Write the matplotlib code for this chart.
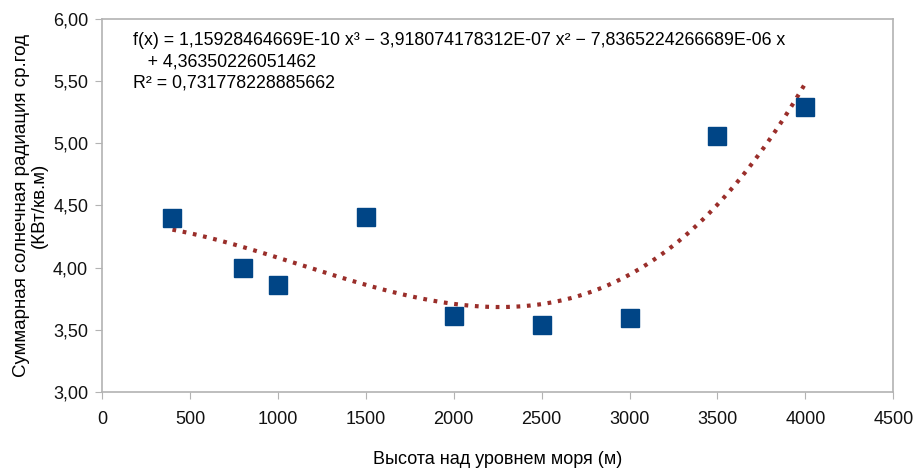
import numpy as np
import matplotlib
matplotlib.use("Agg")
import matplotlib.pyplot as plt
from matplotlib.ticker import FuncFormatter

plt.rcParams['font.family'] = ['Liberation Sans', 'DejaVu Sans']

# data
height_m = [400, 800, 1000, 1500, 2000, 2500, 3000, 3500, 4000]
radiation = [4.40, 4.00, 3.86, 4.41, 3.61, 3.54, 3.595, 5.06, 5.29]

# polynomial trend (from the equation shown on the chart)
coef = [1.15928464669e-10, -3.918074178312e-07, -7.8365224266689e-06, 4.36350226051462]
eq_text = ("f(x) = 1,15928464669E-10 x³ − 3,918074178312E-07 x² − 7,8365224266689E-06 x\n"
           "   + 4,36350226051462\n"
           "R² = 0,731778228885662")

fig = plt.figure(figsize=(9.2, 4.7), dpi=100)
ax = fig.add_axes([0.111, 0.166, 0.86, 0.794])

xs = np.linspace(min(height_m), max(height_m), 300)
ax.plot(xs, np.polyval(coef, xs), color='#9a2e2a', linestyle=(0, (0.9, 1.6)),
        linewidth=3.0, dash_capstyle='butt', zorder=2)
ax.plot(height_m, radiation, linestyle='none', marker='s', markersize=12.5,
        color='#004586', zorder=3)

ax.set_xlim(0, 4500)
ax.set_ylim(3.0, 6.0)
ax.set_xticks(np.arange(0, 4501, 500))
ax.set_yticks(np.arange(3.0, 6.01, 0.5))
ax.yaxis.set_major_formatter(FuncFormatter(lambda v, p: f"{v:.2f}".replace('.', ',')))

for s in ax.spines.values():
    s.set_color('#b3b3b3')
    s.set_linewidth(1.2)
ax.tick_params(axis='both', direction='out', length=5, color='#b3b3b3',
               labelsize=13, labelcolor='#111111')
ax.tick_params(axis='x', pad=9)
ax.tick_params(axis='y', pad=5)

ax.set_xlabel("Высота над уровнем моря (м)", fontsize=13, labelpad=16)
ax.set_ylabel("Суммарная солнечная радиация ср.год\n(КВт/кв.м)", fontsize=13.5,
              labelpad=4, linespacing=1.0)

ax.text(0.039, 0.965, eq_text, transform=ax.transAxes, fontsize=12.8,
        va='top', ha='left', linespacing=1.35)

fig.savefig("out.png", dpi=100)
